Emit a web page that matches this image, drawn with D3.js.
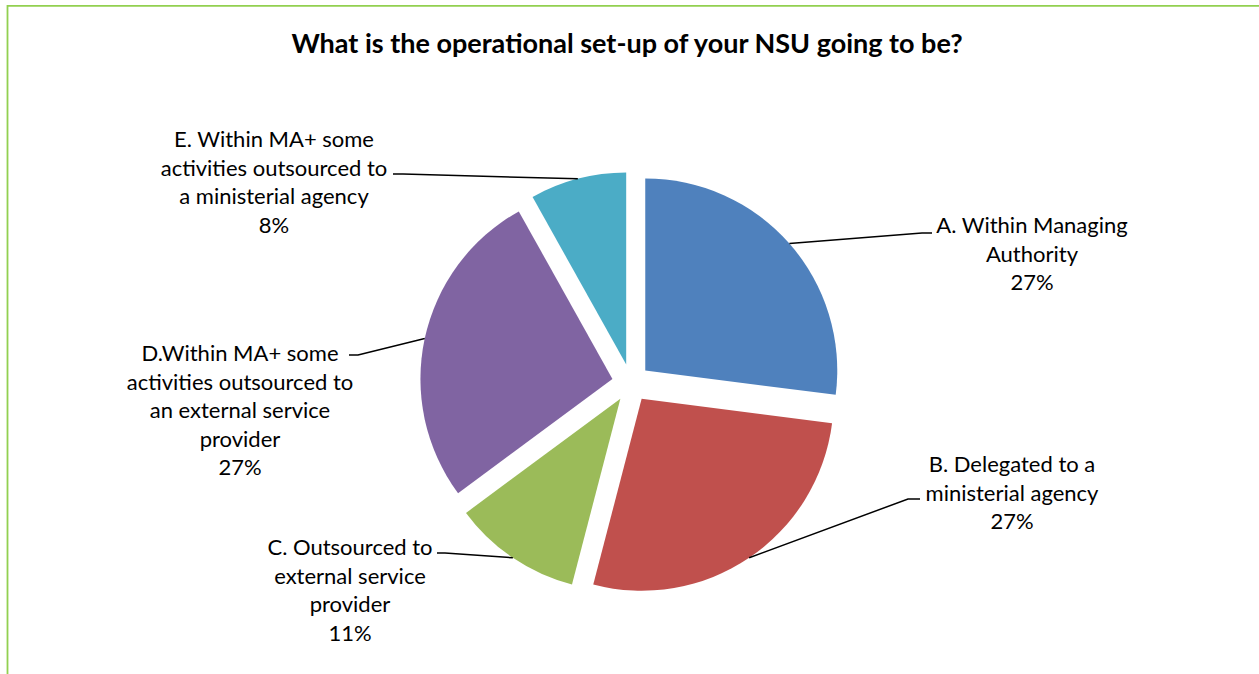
<!DOCTYPE html>
<html>
<head>
<meta charset="utf-8">
<script src="https://cdn.jsdelivr.net/npm/d3@7"></script>
<style>
  body { margin: 0; background: #fff; }
  text { font-family: Lato, "Open Sans", sans-serif; fill: #000; }
</style>
</head>
<body>
<svg id="chart" width="1259" height="674"></svg>
<script>
// data (counts out of 37 give the printed percentages)
var categories = ["A", "B", "C", "D", "E"]
var counts = [10, 10, 4, 10, 3]
var percentLabels = ["27%", "27%", "11%", "27%", "8%"]
var labelLines = [
    ["A. Within Managing", "Authority"],
    ["B. Delegated to a", "ministerial agency"],
    ["C. Outsourced to", "external service", "provider"],
    ["D.Within MA+ some", "activities outsourced to", "an external service", "provider"],
    ["E. Within MA+ some", "activities outsourced to", "a ministerial agency"]
]
var colors = ["#4F81BD", "#C0504D", "#9BBB59", "#8064A2", "#4BACC6"]

// label placement (layout only)
var labelLayout = [
    {x: 1032, y: 233, elbow: [922, 233], end: [932, 233]},
    {x: 1012, y: 472, elbow: [908, 499], end: [920, 499]},
    {x: 350, y: 555, elbow: [445, 553], end: [437, 553]},
    {x: 240, y: 361, elbow: [358, 355], end: [349, 355]},
    {x: 274, y: 147, elbow: [403, 174], end: [393, 174]}
]

var svg = d3.select("#chart")
var cx = 631, cy = 383, radius = 192, explode = 19
var lineH = 28.6

// chart area border, right and bottom run off the page
svg.append("path").attr("d", "M7.5,700 L7.5,5.8 L1300,5.8")
    .attr("fill", "none").attr("stroke", "#92D050").attr("stroke-width", 1.8)

svg.append("text")
    .attr("x", 627).attr("y", 53)
    .attr("text-anchor", "middle")
    .style("font-weight", "bold").style("font-size", "27px")
    .text("What is the operational set-up of your NSU going to be?")

var pie = d3.pie().sort(null).value(function(d) { return d })
var arcs = pie(counts)
var arc = d3.arc().innerRadius(0).outerRadius(radius)
var rim = d3.arc().innerRadius(radius).outerRadius(radius)

var g = svg.append("g").attr("transform", "translate(" + cx + "," + cy + ")")

function offset(d) {
    var mid = (d.startAngle + d.endAngle) / 2
    return [Math.sin(mid) * explode, -Math.cos(mid) * explode]
}

g.selectAll("path.slice").data(arcs).enter().append("path")
    .attr("class", "slice")
    .attr("transform", function(d) { var o = offset(d); return "translate(" + o[0] + "," + o[1] + ")" })
    .attr("d", arc)
    .attr("fill", function(d, i) { return colors[i] })

// leader lines from the middle of each rim to its label
arcs.forEach(function(d, i) {
    var o = offset(d)
    var p = rim.centroid(d)
    var start = [cx + o[0] + p[0], cy + o[1] + p[1]]
    var lay = labelLayout[i]
    svg.append("polyline")
        .attr("points", [start, lay.elbow, lay.end].map(function(q) { return q.join(",") }).join(" "))
        .attr("fill", "none").attr("stroke", "#000").attr("stroke-width", 1.5)

    var lines = labelLines[i].concat([percentLabels[i]])
    var t = svg.append("text")
        .attr("text-anchor", "middle")
        .style("font-size", "22px")
    lines.forEach(function(s, k) {
        t.append("tspan").attr("x", lay.x).attr("y", lay.y + k * lineH).text(s)
    })
})
</script>
</body>
</html>
